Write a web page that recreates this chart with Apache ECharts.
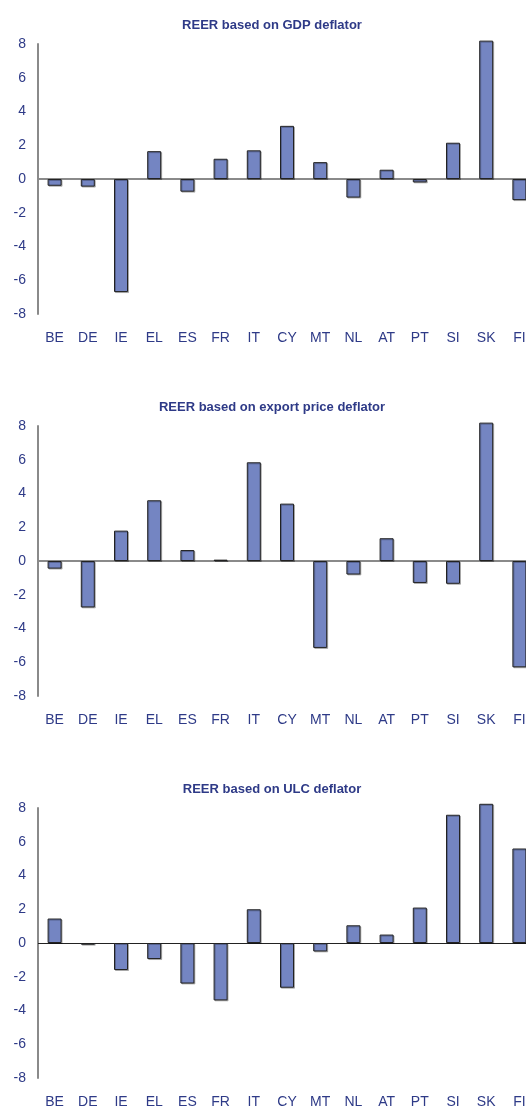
<!DOCTYPE html>
<html>
<head>
<meta charset="utf-8">
<script src="https://cdn.jsdelivr.net/npm/echarts@6/dist/echarts.min.js"></script>
<style>
  html, body { margin: 0; padding: 0; background: #fff; }
  #chart { width: 526px; height: 1108px; }
</style>
</head>
<body>
<div id="chart"></div>
<script>
// countries on the x axis
var categories = ['BE', 'DE', 'IE', 'EL', 'ES', 'FR', 'IT', 'CY', 'MT', 'NL', 'AT', 'PT', 'SI', 'SK', 'FI'];
// panel titles
var titles = ['REER based on GDP deflator', 'REER based on export price deflator', 'REER based on ULC deflator'];
// values
var gdpDeflator = [-0.4, -0.45, -6.7, 1.65, -0.75, 1.2, 1.7, 3.15, 1.0, -1.1, 0.55, -0.2, 2.15, 8.2, -1.25];
var exportDeflator = [-0.45, -2.75, 1.8, 3.6, 0.65, 0.08, 5.85, 3.4, -5.15, -0.8, 1.35, -1.3, -1.35, 8.2, -6.3];
var ulcDeflator = [1.45, -0.1, -1.6, -0.95, -2.4, -3.4, 2.0, -2.65, -0.5, 1.05, 0.5, 2.1, 7.6, 8.25, 5.6];
var yMin = -8, yMax = 8, yStep = 2;

var panels = [gdpDeflator, exportDeflator, ulcDeflator];
var gridTops = [44, 426, 808];   // top of each plot
var gridHeight = 270;
var navy = '#2e3a87';
var font = "'Liberation Sans Narrow', 'Liberation Sans', Arial, sans-serif";

var chart = echarts.init(document.getElementById('chart'), null, { renderer: 'canvas' });

var title = [], grid = [], xAxis = [], yAxis = [], series = [];
for (var i = 0; i < panels.length; i++) {
  title.push({
    text: titles[i],
    left: 267,
    top: gridTops[i] - 30,
    textAlign: 'center',
    textStyle: { color: navy, fontSize: 13, fontWeight: 'bold', fontFamily: 'Liberation Sans, Arial, sans-serif' }
  });
  // plot runs past the right edge, FI is cut off like in the original
  grid.push({ left: 38, width: 498, top: gridTops[i], height: gridHeight, containLabel: false, outerBoundsMode: 'none' });
  xAxis.push({
    type: 'category',
    gridIndex: i,
    data: categories,
    axisLine: { show: false },
    axisTick: { show: false },
    axisLabel: { color: navy, fontSize: 14, fontFamily: font, margin: 17, interval: 0 }
  });
  yAxis.push({
    type: 'value',
    gridIndex: i,
    min: yMin,
    max: yMax,
    interval: yStep,
    axisLine: { show: true, lineStyle: { color: '#8a8a8a', width: 2 } },
    axisTick: { show: false },
    splitLine: { show: false },
    axisLabel: { color: navy, fontSize: 14, fontFamily: font, margin: 12 }
  });
  series.push({
    type: 'bar',
    xAxisIndex: i,
    yAxisIndex: i,
    data: panels[i],
    barWidth: 14,
    clip: false,
    itemStyle: {
      color: '#7485c2',
      borderColor: '#222',
      borderWidth: 1,
      shadowColor: 'rgba(0,0,0,0.25)',
      shadowOffsetX: 1,
      shadowOffsetY: 1
    },
    markLine: {
      silent: true,
      symbol: 'none',
      label: { show: false },
      lineStyle: { color: i === 2 ? '#222' : '#8a8a8a', width: i === 2 ? 1.2 : 2, type: 'solid' },
      data: [{ yAxis: 0 }],
      z: 1
    }
  });
}

chart.setOption({
  animation: false,
  title: title,
  grid: grid,
  xAxis: xAxis,
  yAxis: yAxis,
  series: series
});
</script>
</body>
</html>
